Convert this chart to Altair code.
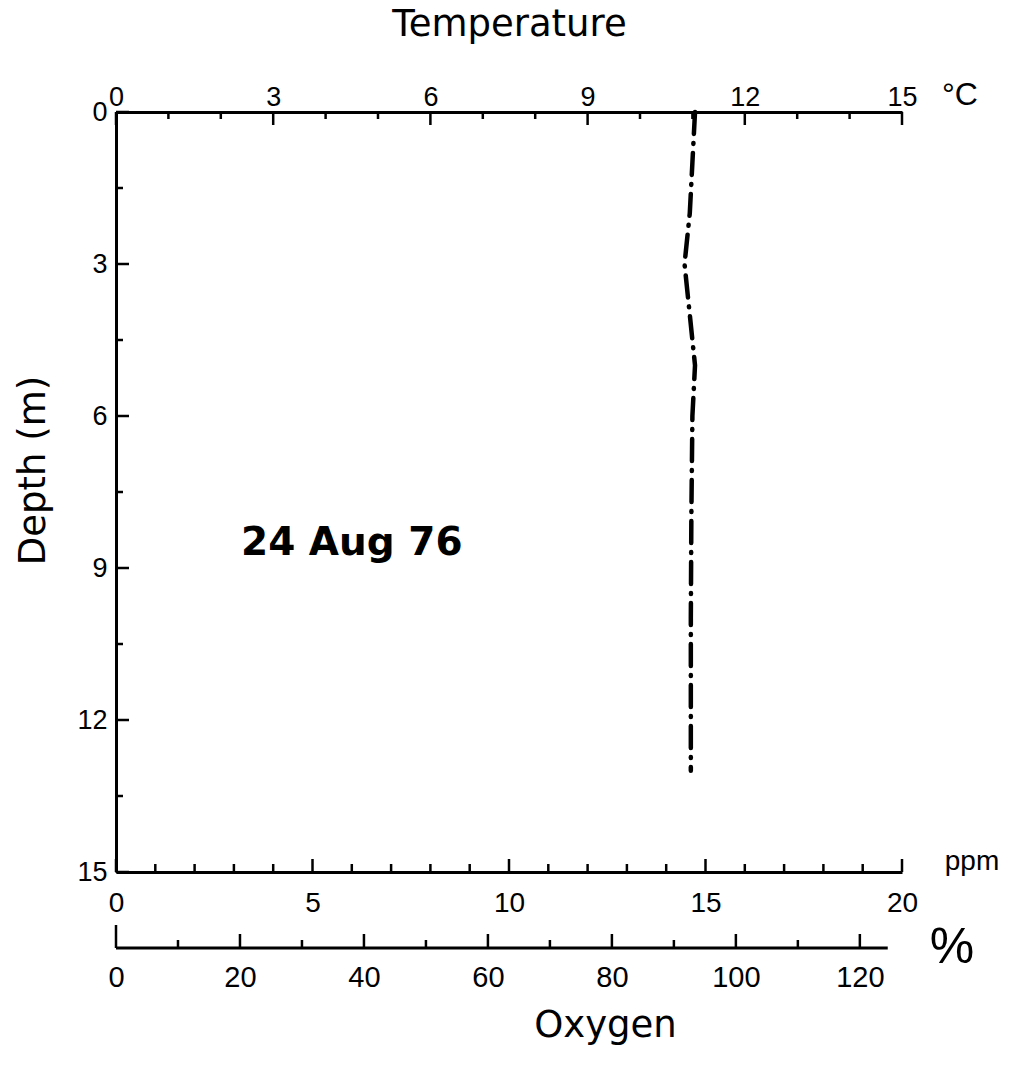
import altair as alt
import pandas as pd

# ---------------- data ----------------
depth_m = [0, 1, 2, 3, 4, 5, 6, 8, 10, 13]
temperature_c = [11.05, 11.0, 10.95, 10.85, 10.95, 11.05, 11.0, 10.98, 10.97, 10.97]

temp_ticks = list(range(0, 16))
temp_tick_labels = [0, 3, 6, 9, 12, 15]
depth_ticks = [0, 1.5, 3, 4.5, 6, 7.5, 9, 10.5, 12, 13.5, 15]
depth_tick_labels = [0, 3, 6, 9, 12, 15]
ppm_ticks = list(range(0, 21))
ppm_tick_labels = [0, 5, 10, 15, 20]
pct_ticks = list(range(0, 130, 10))
pct_tick_labels = [0, 20, 40, 60, 80, 100, 120]
pct_axis_extent = [0, 124.5]

temp_domain = [0, 15]
depth_domain = [0, 15]
ppm_domain = [0, 20]
pct_domain = [0, 126.8]

date_text = "24 Aug 76"

# ---------------- layout / style ----------------
W, H = 786, 760
LEFT, TOP = 116, 112
SANS = "Liberation Sans, Arial, sans-serif"
WIDE = "DejaVu Sans, Liberation Sans, sans-serif"
INK = "black"

temp_scale = alt.Scale(domain=temp_domain, nice=False, zero=False)
depth_scale = alt.Scale(domain=depth_domain, reverse=True, nice=False, zero=False)
ppm_scale = alt.Scale(domain=ppm_domain, nice=False, zero=False)
pct_scale = alt.Scale(domain=pct_domain, nice=False, zero=False)

one = pd.DataFrame({"k": [0]})

# ---------------- temperature profile ----------------
prof_df = pd.DataFrame({"depth": depth_m, "temp": temperature_c})
profile = alt.Chart(prof_df).mark_line(
    color=INK, strokeWidth=4.5, strokeDash=[22, 9, 1, 9], strokeCap="round"
).encode(
    x=alt.X("temp:Q", scale=temp_scale, axis=alt.Axis(
        orient="top", values=temp_tick_labels, ticks=False, tickSize=0,
        domain=True, domainColor=INK, domainWidth=3, grid=False,
        labelFont=SANS, labelFontSize=27, labelColor=INK, labelPadding=1,
        labelFlush=False, labelOverlap=False,
        title="Temperature", titleFont=WIDE, titleFontSize=37,
        titleFontWeight="normal", titleColor=INK, titleX=393, titleY=-88,
        titleAlign="center", titleBaseline="middle", titleAngle=0)),
    y=alt.Y("depth:Q", scale=depth_scale, axis=None),
    order=alt.Order("depth:Q"),
)

# ---------------- inward ticks (temperature, top) ----------------
temp_major = pd.DataFrame({"v": temp_tick_labels})
temp_minor = pd.DataFrame({"v": [t for t in temp_ticks if t not in temp_tick_labels]})
top_major = alt.Chart(temp_major).mark_rule(color=INK, strokeWidth=2.5).encode(
    x=alt.X("v:Q", scale=temp_scale, axis=None), y=alt.value(0), y2=alt.value(13))
top_minor = alt.Chart(temp_minor).mark_rule(color=INK, strokeWidth=2.5).encode(
    x=alt.X("v:Q", scale=temp_scale, axis=None), y=alt.value(0), y2=alt.value(7))

# ---------------- inward ticks + axis (depth, left) ----------------
depth_major = pd.DataFrame({"v": depth_tick_labels})
depth_minor = pd.DataFrame({"v": [d for d in depth_ticks if d not in depth_tick_labels]})
left_major = alt.Chart(depth_major).mark_rule(color=INK, strokeWidth=2.5).encode(
    y=alt.Y("v:Q", scale=depth_scale, axis=alt.Axis(
        orient="left", values=depth_tick_labels, ticks=False, tickSize=0,
        domain=True, domainColor=INK, domainWidth=3, grid=False,
        labelFont=SANS, labelFontSize=27, labelColor=INK, labelPadding=9,
        labelFlush=False, labelOverlap=False,
        title="Depth (m)", titleFont=WIDE, titleFontSize=37,
        titleFontWeight="normal", titleColor=INK, titleX=-83, titleY=358,
        titleAngle=270, titleAlign="center", titleBaseline="middle")),
    x=alt.value(0), x2=alt.value(13))
left_minor = alt.Chart(depth_minor).mark_rule(color=INK, strokeWidth=2.5).encode(
    y=alt.Y("v:Q", scale=depth_scale, axis=None), x=alt.value(0), x2=alt.value(7))

# ---------------- oxygen ppm axis (bottom frame) ----------------
ppm_major = pd.DataFrame({"v": ppm_tick_labels})
ppm_minor = pd.DataFrame({"v": [p for p in ppm_ticks if p not in ppm_tick_labels]})
ppm_major_layer = alt.Chart(ppm_major).mark_rule(color=INK, strokeWidth=2.5).encode(
    x=alt.X("v:Q", scale=ppm_scale, axis=alt.Axis(
        orient="bottom", values=ppm_tick_labels, ticks=False, tickSize=0,
        domain=True, domainColor=INK, domainWidth=3, grid=False,
        labelFont=SANS, labelFontSize=28, labelColor=INK, labelPadding=17,
        labelFlush=False, labelOverlap=False, title=None)),
    y=alt.value(H), y2=alt.value(H - 13))
ppm_minor_layer = alt.Chart(ppm_minor).mark_rule(color=INK, strokeWidth=2.5).encode(
    x=alt.X("v:Q", scale=ppm_scale, axis=None), y=alt.value(H), y2=alt.value(H - 8))

# ---------------- oxygen % saturation axis ----------------
PCT_Y = H + 76
pct_line_df = pd.DataFrame({"a": [pct_axis_extent[0]], "b": [pct_axis_extent[1]]})
pct_line = alt.Chart(pct_line_df).mark_rule(color=INK, strokeWidth=3).encode(
    x=alt.X("a:Q", scale=pct_scale, axis=alt.Axis(
        orient="bottom", values=pct_tick_labels, ticks=False, tickSize=0,
        domain=False, grid=False,
        labelFont=SANS, labelFontSize=29, labelColor=INK, labelPadding=91,
        labelFlush=False, labelOverlap=False,
        title="Oxygen", titleFont=WIDE, titleFontSize=37, titleFontWeight="normal",
        titleColor=INK, titleX=489, titleY=153, titleAlign="center",
        titleBaseline="middle")),
    x2="b:Q", y=alt.value(PCT_Y))
pct_major = pd.DataFrame({"v": [p for p in pct_tick_labels if p != 0]})
pct_minor = pd.DataFrame({"v": [p for p in pct_ticks if p not in pct_tick_labels]})
pct_zero = pd.DataFrame({"v": [0]})
pct_major_layer = alt.Chart(pct_major).mark_rule(color=INK, strokeWidth=2.5).encode(
    x=alt.X("v:Q", scale=pct_scale, axis=None), y=alt.value(PCT_Y), y2=alt.value(PCT_Y - 14))
pct_minor_layer = alt.Chart(pct_minor).mark_rule(color=INK, strokeWidth=2.5).encode(
    x=alt.X("v:Q", scale=pct_scale, axis=None), y=alt.value(PCT_Y), y2=alt.value(PCT_Y - 8))
pct_zero_layer = alt.Chart(pct_zero).mark_rule(color=INK, strokeWidth=2.5).encode(
    x=alt.X("v:Q", scale=pct_scale, axis=None), y=alt.value(PCT_Y), y2=alt.value(PCT_Y - 23))

# ---------------- annotations ----------------
def note(text, xd, yd, dx=0, dy=0, size=26, font=SANS, weight="normal", align="center"):
    return alt.Chart(one).mark_text(
        text=text, font=font, fontSize=size, fontWeight=weight, color=INK,
        align=align, baseline="middle", dx=dx, dy=dy,
    ).encode(
        x=alt.X(datum=xd, scale=temp_scale, axis=None),
        y=alt.Y(datum=yd, scale=depth_scale, axis=None),
    )

date_note = note(date_text, 4.5, 8.5, size=39, font=WIDE, weight="bold")
unit_c = note("°C", 15, 0, dx=58, dy=-17, size=32)
unit_ppm = note("ppm", 15, 15, dx=70, dy=-10, size=28)
unit_pct = note("%", 15, 15, dx=50, dy=76, size=50)

chart = alt.layer(
    profile, top_major, top_minor, left_major, left_minor,
    ppm_major_layer, ppm_minor_layer,
    pct_line, pct_major_layer, pct_minor_layer, pct_zero_layer,
    date_note, unit_c, unit_ppm, unit_pct,
).resolve_scale(
    x="independent", y="shared"
).resolve_axis(
    y="independent"
).properties(
    width=W, height=H,
    autosize=alt.AutoSizeParams(type="none"),
    padding={"left": LEFT, "top": TOP, "right": 1011 - LEFT - W, "bottom": 1084 - TOP - H},
    background="white",
).configure_view(stroke=None)

chart.save("out.html", embed_options={"renderer": "svg", "actions": False})
